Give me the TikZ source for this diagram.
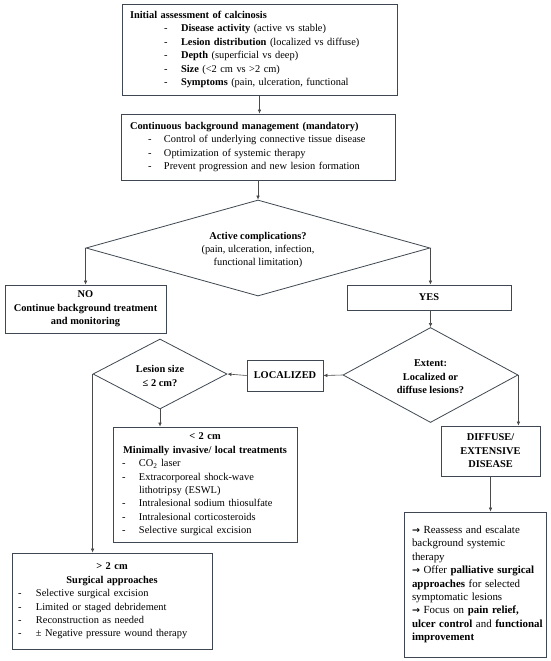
\documentclass[tikz,border=0pt]{standalone}
\usepackage{fontspec}
\setmainfont{Liberation Serif}
\newfontfamily\dvs{DejaVu Sans}
\usetikzlibrary{arrows.meta,shapes.geometric}
\definecolor{bordercol}{HTML}{3F4852}
\definecolor{linecol}{HTML}{4A4A4A}
\newcommand{\dsh}[1]{\makebox[#1][l]{-}}
\newcommand{\rarr}{{\dvs\bfseries\fontsize{9.5}{10}\selectfont →}}
\begin{document}
\begin{tikzpicture}[x=1pt,y=-1pt,
  box/.style={draw=bordercol, line width=0.8pt, inner sep=0pt, font=\fontsize{10.4}{13.4}\selectfont},
  dia/.style={diamond, draw=bordercol, line width=0.8pt, inner sep=0pt},
  txt/.style={font=\fontsize{10.4}{13.4}\selectfont, align=center, inner sep=0pt},
  arr/.style={draw=linecol, line width=0.6pt, -{Latex[length=4pt,width=3.6pt]}}]
\useasboundingbox (0,0) rectangle (550,661);
\fill[white] (0,0) rectangle (550,661);

% box 1
\node[box, minimum width=275pt, minimum height=91pt, text width=259pt, inner xsep=8pt, align=left] (b1) at (259.5,49.5)
{\textbf{Initial assessment of calcinosis}\\
\hspace*{34pt}\dsh{17pt}\textbf{Disease activity} (active vs stable)\\
\hspace*{34pt}\dsh{17pt}\textbf{Lesion distribution} (localized vs diffuse)\\
\hspace*{34pt}\dsh{17pt}\textbf{Depth} (superficial vs deep)\\
\hspace*{34pt}\dsh{17pt}\textbf{Size} (<2 cm vs >2 cm)\\
\hspace*{34pt}\dsh{17pt}\textbf{Symptoms} (pain, ulceration, functional};

% box 2
\node[box, minimum width=274pt, minimum height=66pt, text width=256pt, inner xsep=9pt, align=left] (b2) at (258,147)
{\textbf{Continuous background management (mandatory)}\\
\hspace*{18pt}\dsh{16pt}Control of underlying connective tissue disease\\
\hspace*{18pt}\dsh{16pt}Optimization of systemic therapy\\
\hspace*{18pt}\dsh{16pt}Prevent progression and new lesion formation};

% diamond 1
\node[dia, minimum width=344pt, minimum height=96pt] (d1) at (258,248) {};
\node[txt] (d1t) at (258,250) {\textbf{Active complications?}\\(pain, ulceration, infection,\\functional limitation)};

% NO / YES
\node[box, minimum width=161pt, minimum height=48pt, align=center] (no) at (85.5,309)
{\textbf{NO}\\\textbf{Continue background treatment}\\\textbf{and monitoring}};
\node[box, minimum width=164pt, minimum height=25pt] (yes) at (429,297.5) {\textbf{YES}};

% diamond 2
\node[dia, minimum width=175pt, minimum height=95pt] (d2) at (430.5,375) {};
\node[txt] (d2t) at (430.5,377) {\textbf{Extent:}\\\textbf{Localized or}\\\textbf{diffuse lesions?}};

% localized
\node[box, minimum width=76pt, minimum height=31pt] (loc) at (285,375.5) {\textbf{LOCALIZED}};

% diamond 3
\node[dia, minimum width=134pt, minimum height=70pt] (d3) at (160,374) {};
\node[txt] (d3t) at (160,376) {\textbf{Lesion size}\\\textbf{≤ 2 cm?}};

% < 2 cm box
\node[box, minimum width=184pt, minimum height=115pt, text width=168pt, inner xsep=8pt, align=left] (lt) at (205,484.5)
{\makebox[168pt]{\textbf{< 2 cm}}\\
\makebox[168pt]{\textbf{Minimally invasive/ local treatments}}\\
\hspace*{1pt}\dsh{17pt}CO\textsubscript{2} laser\\
\hspace*{1pt}\dsh{17pt}Extracorporeal shock-wave\\
\hspace*{18pt}lithotripsy (ESWL)\\
\hspace*{1pt}\dsh{17pt}Intralesional sodium thiosulfate\\
\hspace*{1pt}\dsh{17pt}Intralesional corticosteroids\\
\hspace*{1pt}\dsh{17pt}Selective surgical excision};

% > 2 cm box
\node[box, minimum width=200pt, minimum height=96pt, text width=190pt, inner xsep=5pt, align=left] (gt) at (112,601)
{\makebox[190pt]{\textbf{> 2 cm}}\\
\makebox[190pt]{\textbf{Surgical approaches}}\\
\hspace*{1pt}\dsh{18pt}Selective surgical excision\\
\hspace*{1pt}\dsh{18pt}Limited or staged debridement\\
\hspace*{1pt}\dsh{18pt}Reconstruction as needed\\
\hspace*{1pt}\dsh{18pt}± Negative pressure wound therapy};

% diffuse
\node[box, minimum width=99pt, minimum height=50pt, align=center] (dif) at (490.5,451)
{\textbf{DIFFUSE/}\\\textbf{EXTENSIVE}\\\textbf{DISEASE}};

% final box
\node[box, font=\fontsize{10.9}{13.4}\selectfont, minimum width=142pt, minimum height=145pt, text width=132pt, inner xsep=5pt, align=left] (fin) at (475,584.5)
{\hspace*{3pt}\mbox{\rarr{} Reassess and escalate}\\
\hspace*{3pt}\mbox{background systemic}\\
\hspace*{3pt}\mbox{therapy}\\
\hspace*{3pt}\mbox{\rarr{} Offer \textbf{palliative surgical}}\\
\hspace*{3pt}\mbox{\textbf{approaches} for selected}\\
\hspace*{3pt}\mbox{symptomatic lesions}\\
\hspace*{3pt}\mbox{\rarr{} Focus on \textbf{pain relief,}}\\
\hspace*{3pt}\mbox{\textbf{ulcer control} and \textbf{functional}}\\
\hspace*{3pt}\mbox{\textbf{improvement}}};

% connectors
\draw[arr] (b1.south) -- (b1.south |- b2.north);
\draw[arr] (b2.south) -- (d1.north);
\draw[arr] (d1.west) -- (d1.west |- no.north);
\draw[arr] (d1.east) -- (d1.east |- yes.north);
\draw[arr] (yes.south) -- (yes.south -| d2.north) -- (d2.north);
\draw[arr] (d2.west) -- (loc.east);
\draw[arr] (loc.west) -- (d3.east);
\draw[arr] (d3.south) -- (d3.south |- lt.north);
\draw[arr] (d3.west) -- (d3.west |- gt.north);
\draw[arr] (d2.east) -- (d2.east |- dif.north);
\draw[arr] (dif.south) -- (dif.south |- fin.north);
\end{tikzpicture}
\end{document}
